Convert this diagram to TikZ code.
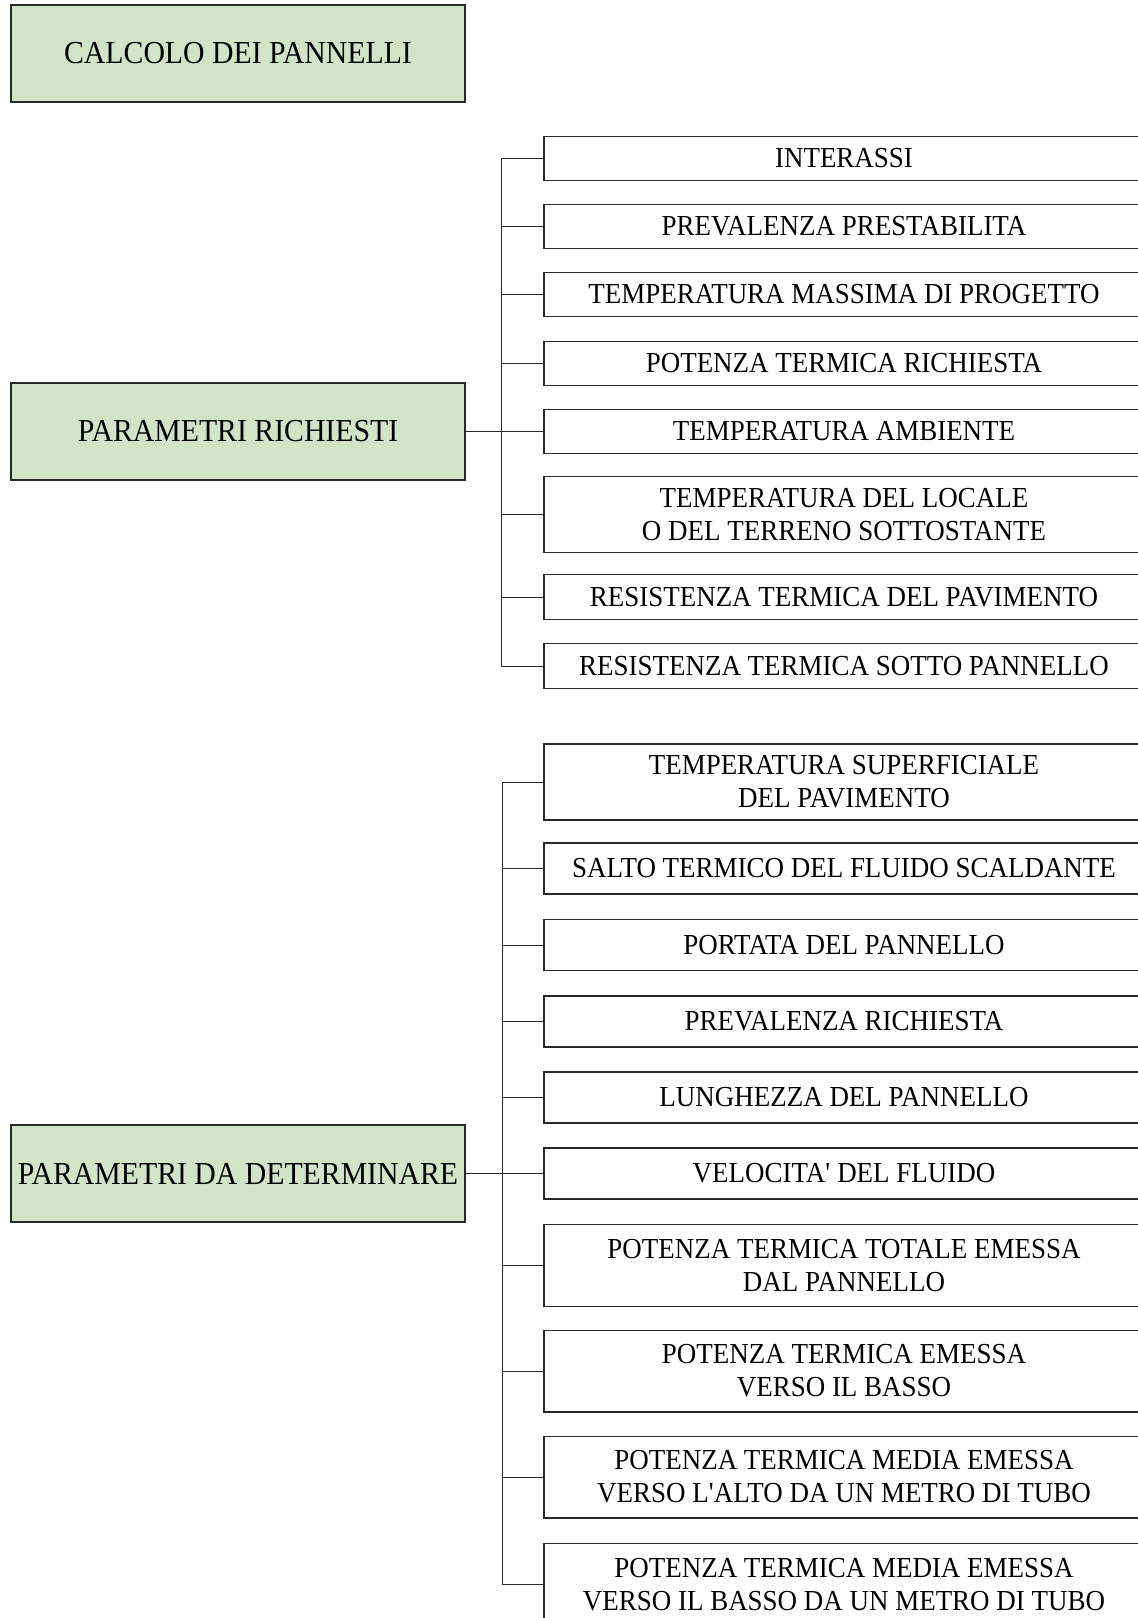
\documentclass[tikz,border=0pt]{standalone}
\usepackage{fontspec}
\setmainfont[FakeStretch=0.93]{Liberation Serif}
\usepackage{tikz}
\usepackage{xcolor}
\definecolor{verdino}{RGB}{210,227,200}
\definecolor{bordo}{RGB}{40,40,40}

\begin{document}
\begin{tikzpicture}[x=0.5pt,y=-0.5pt,
    capo/.style={draw=bordo, line width=0.7pt, fill=verdino, minimum width=227pt, minimum height=48.5pt, inner sep=0pt, font=\fontsize{16}{19}\selectfont},
    voce/.style={draw=bordo, line width=0.7pt, minimum width=300pt, minimum height=22.25pt, inner sep=0pt, align=center, font=\fontsize{14.5}{16.5}\selectfont},
    voce2/.style={voce, minimum height=38pt},
    voce3/.style={voce, minimum height=25.5pt},
    voce4/.style={voce, minimum height=40.8pt},
    ramo/.style={draw=bordo, line width=0.5pt}]
            \useasboundingbox (0,0) rectangle (1137,1618);
            % blocchi a sinistra
            \node[capo] (calcolo) at (238,53.5){CALCOLO DEI PANNELLI};
            \node[capo] (richiesti) at (238,431.5){PARAMETRI RICHIESTI};
            \node[capo] (determ) at (238,1173.5){PARAMETRI DA DETERMINARE};
            % parametri richiesti
            \node[voce] (r1) at (844,158.5){INTERASSI};
            \node[voce] (r2) at (844,226.5){PREVALENZA PRESTABILITA};
            \node[voce] (r3) at (844,294.5){TEMPERATURA MASSIMA DI PROGETTO};
            \node[voce] (r4) at (844,363.5){POTENZA TERMICA RICHIESTA};
            \node[voce] (r5) at (844,431.5){TEMPERATURA AMBIENTE};
            \node[voce2] (r6) at (844,514.5){TEMPERATURA DEL LOCALE\\O DEL TERRENO SOTTOSTANTE};
            \node[voce] (r7) at (844,597){RESISTENZA TERMICA DEL PAVIMENTO};
            \node[voce] (r8) at (844,666){RESISTENZA TERMICA SOTTO PANNELLO};
            % parametri da determinare
            \node[voce2] (d1) at (844,782){TEMPERATURA SUPERFICIALE\\DEL PAVIMENTO};
            \node[voce3] (d2) at (844,868.5){SALTO TERMICO DEL FLUIDO SCALDANTE};
            \node[voce3] (d3) at (844,945){PORTATA DEL PANNELLO};
            \node[voce3] (d4) at (844,1021.5){PREVALENZA RICHIESTA};
            \node[voce3] (d5) at (844,1097.5){LUNGHEZZA DEL PANNELLO};
            \node[voce3] (d6) at (844,1173.5){VELOCITA\textquotesingle{} DEL FLUIDO};
            \node[voce4] (d7) at (844,1265.5){POTENZA TERMICA TOTALE EMESSA\\DAL PANNELLO};
            \node[voce4] (d8) at (844,1371){POTENZA TERMICA EMESSA\\VERSO IL BASSO};
            \node[voce4] (d9) at (844,1477){POTENZA TERMICA MEDIA EMESSA\\VERSO L\textquotesingle ALTO DA UN METRO DI TUBO};
            \node[voce4] (d10) at (844,1584.5){POTENZA TERMICA MEDIA EMESSA\\VERSO IL BASSO DA UN METRO DI TUBO};
            % collegamenti
            \coordinate (busR) at (501,0);
            \coordinate (busD) at (502,0);
            \draw[ramo] (richiesti.east) -- (richiesti.east -| busR);
            \draw[ramo] (busR |- r1.west) -- (busR |- r8.west);
            \foreach \n in {r1,r2,r3,r4,r5,r6,r7,r8}
                \draw[ramo] (busR |- \n.west) -- (\n.west);
            \draw[ramo] (determ.east) -- (determ.east -| busD);
            \draw[ramo] (busD |- d1.west) -- (busD |- d10.west);
            \foreach \n in {d1,d2,d3,d4,d5,d6,d7,d8,d9,d10}
                \draw[ramo] (busD |- \n.west) -- (\n.west);
        \end{tikzpicture}
\end{document}
